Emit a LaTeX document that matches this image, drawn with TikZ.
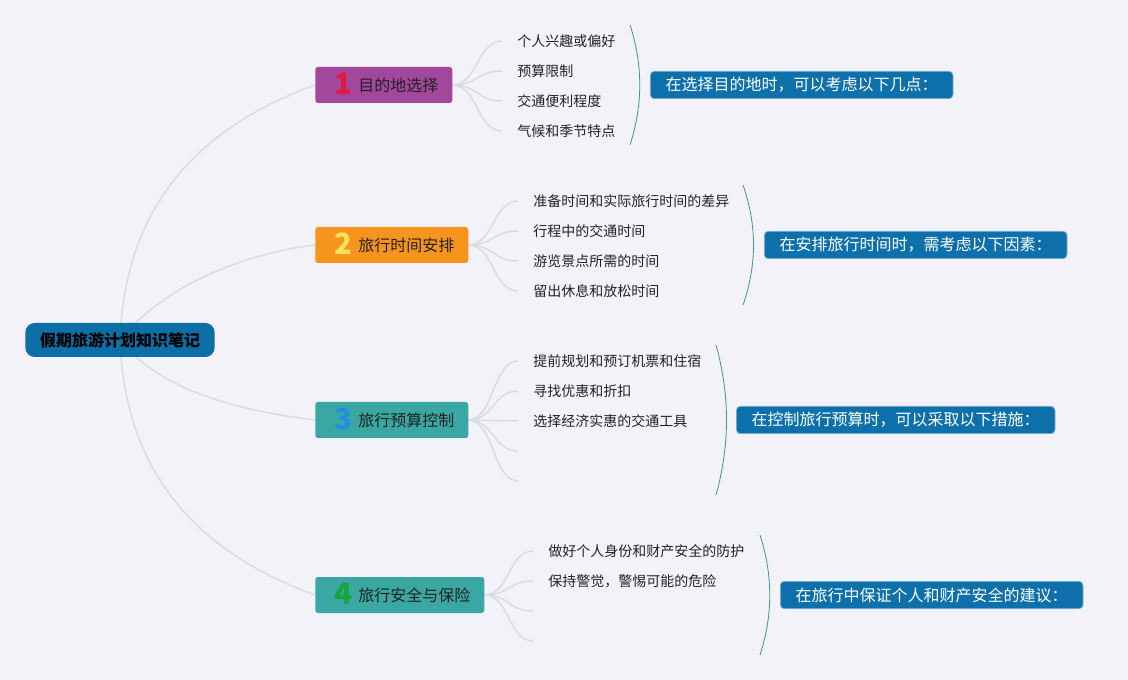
\documentclass[tikz,border=0pt]{standalone}
\usepackage{fontspec}
\setmainfont{Noto Sans CJK SC}
\usepackage{xcolor}
\usetikzlibrary{positioning,calc}

\definecolor{bgpaper}{RGB}{243,242,248}
\definecolor{rootblue}{RGB}{12,111,168}
\definecolor{sumblue}{RGB}{14,112,170}
\definecolor{plum}{RGB}{162,72,156}
\definecolor{amber}{RGB}{247,148,29}
\definecolor{tealbox}{RGB}{58,167,163}
\definecolor{numred}{RGB}{226,24,62}
\definecolor{numyellow}{RGB}{255,226,90}
\definecolor{numblue}{RGB}{30,144,226}
\definecolor{numgreen}{RGB}{22,165,58}
\definecolor{linkgray}{RGB}{218,218,224}
\definecolor{bracegreen}{RGB}{62,150,136}
\definecolor{leaftext}{RGB}{34,34,34}

\newcommand{\topicnum}[2]{\makebox[21.75pt][c]{\smash{\raisebox{-2.5pt}{\fontsize{22}{22}\selectfont\bfseries\textcolor{#1}{#2}}}}}

\pgfdeclarelayer{paper}
\pgfdeclarelayer{links}
\pgfsetlayers{paper,links,main}

\begin{document}
\begin{tikzpicture}[
    x=0.75pt, y=-0.75pt, % one unit is one pixel, y runs downwards
    every node/.style={inner sep=0pt, font=\fontsize{10.5}{12}\selectfont}, % General node style
    root/.style={fill=rootblue, rounded corners=7pt, minimum height=25.5pt, inner xsep=11pt, text=black, font=\fontsize{12}{14}\selectfont\bfseries}, % Central topic
    topic/.style={anchor=west, rounded corners=2pt, minimum height=27pt, inner xsep=10.5pt, text=leaftext, font=\fontsize{12}{14}\selectfont}, % Main branch
    leaf/.style={anchor=west, inner xsep=11.25pt, text=leaftext}, % Sub topic
    summary/.style={anchor=west, fill=sumblue, draw=sumblue!55!white, line width=0.5pt, rounded corners=3pt, minimum height=20.5pt, inner xsep=11.5pt, text=white, font=\fontsize{12}{14}\selectfont}, % Summary
    link/.style={draw=linkgray, line width=1.1pt}, % Connector
    brace/.style={draw=bracegreen, line width=0.6pt} % Summary bracket
]
\useasboundingbox (0,0) rectangle (1128,680);
\begin{pgfonlayer}{paper}
\fill[bgpaper] (0,0) rectangle (1128,680);
\end{pgfonlayer}

\node[root] (root) at (120,340) {假期旅游计划知识笔记};

\node[topic, fill=plum] (dest) at (315,85) {\topicnum{numred}{1}目的地选择};
\node[topic, fill=amber] (time) at (315,245) {\topicnum{numyellow}{2}旅行时间安排};
\node[topic, fill=tealbox] (budget) at (315,420) {\topicnum{numblue}{3}旅行预算控制};
\node[topic, fill=tealbox] (safety) at (315,595) {\topicnum{numgreen}{4}旅行安全与保险};

% sub topics
\foreach \txt [count=\i] in {个人兴趣或偏好, 预算限制, 交通便利程度, 气候和季节特点}
    \node[leaf] (dest\i) at (502,11+30*\i) {\txt};
\foreach \txt [count=\i] in {准备时间和实际旅行时间的差异, 行程中的交通时间, 游览景点所需的时间, 留出休息和放松时间}
    \node[leaf] (time\i) at (518,171+30*\i) {\txt};
\foreach \txt [count=\i] in {提前规划和预订机票和住宿, 寻找优惠和折扣, 选择经济实惠的交通工具}
    \node[leaf] (budget\i) at (518,331+30*\i) {\txt};
\coordinate (budget4) at (518,451);
\coordinate (budget5) at (518,481);
\foreach \txt [count=\i] in {做好个人身份和财产安全的防护, 保持警觉，警惕可能的危险}
    \node[leaf] (safety\i) at (533,521+30*\i) {\txt};
\coordinate (safety3) at (533,611);
\coordinate (safety4) at (533,641);

% summaries
\node[summary] (destsum) at (650,85) {在选择目的地时，可以考虑以下几点：};
\node[summary] (timesum) at (764,245) {在安排旅行时间时，需考虑以下因素：};
\node[summary] (budgetsum) at (736,420) {在控制旅行预算时，可以采取以下措施：};
\node[summary] (safetysum) at (780,595) {在旅行中保证个人和财产安全的建议：};

\coordinate (destTop) at (630,25);    \coordinate (destBot) at (630,145);
\coordinate (timeTop) at (743,185);   \coordinate (timeBot) at (743,305);
\coordinate (budgetTop) at (716,345); \coordinate (budgetBot) at (716,495);
\coordinate (safetyTop) at (760,535); \coordinate (safetyBot) at (760,655);
\draw[brace] (destTop) .. controls +(13,40) and +(13,-40) .. (destBot);
\draw[brace] (timeTop) .. controls +(14,40) and +(14,-40) .. (timeBot);
\draw[brace] (budgetTop) .. controls +(14,50) and +(14,-50) .. (budgetBot);
\draw[brace] (safetyTop) .. controls +(13,40) and +(13,-40) .. (safetyBot);

\begin{pgfonlayer}{links}
\draw[link] (root.center) .. controls +(5,-140) and +(-110,40) .. (dest.west);
\draw[link] (root.center) .. controls +(40,-50) and +(-80,10) .. (time.west);
\draw[link] (root.center) .. controls +(40,50) and +(-80,-10) .. (budget.west);
\draw[link] (root.center) .. controls +(5,140) and +(-110,-40) .. (safety.west);
\foreach \i in {1,...,4}
    \draw[link] (dest.east) .. controls +(25,0) and +(-25,0) .. (dest\i.west);
\foreach \i in {1,...,4}
    \draw[link] (time.east) .. controls +(25,0) and +(-25,0) .. (time\i.west);
\foreach \i in {1,...,5}
    \draw[link] (budget.east) .. controls +(25,0) and +(-25,0) .. (budget\i.west);
\foreach \i in {1,...,4}
    \draw[link] (safety.east) .. controls +(25,0) and +(-25,0) .. (safety\i.west);
\end{pgfonlayer}
\end{tikzpicture}
\end{document}
